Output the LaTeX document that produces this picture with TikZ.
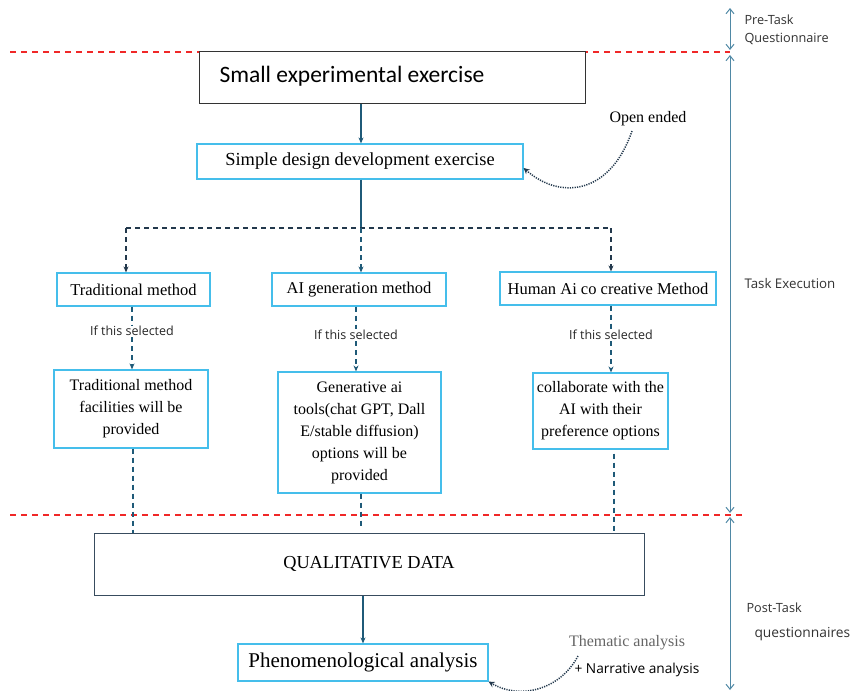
\documentclass[tikz,border=0pt]{standalone}
\usepackage{fontspec}
\setmainfont{Liberation Serif}
\newfontfamily\carl{Carlito}
\newfontfamily\opns{Open Sans}
\usetikzlibrary{arrows.meta}
\definecolor{teal1}{HTML}{1F5A78}
\definecolor{navy1}{HTML}{22384C}
\definecolor{cyanb}{HTML}{45BEEB}
\definecolor{sidec}{HTML}{4F88A5}
\definecolor{redd}{HTML}{F02828}
\begin{document}
\begin{tikzpicture}[x=1pt,y=-1pt,
  cbox/.style={draw=cyanb,line width=1.2pt,fill=white,inner sep=0pt,align=center},
  kbox/.style={draw=black!80,line width=1pt,fill=white,inner sep=0pt},
  solidarr/.style={draw=teal1,line width=1.4pt,-{Stealth[length=6pt,width=5pt]}},
  dasharr/.style={draw=teal1,line width=1.2pt,dash pattern=on 5pt off 4pt,-{Stealth[length=6pt,width=5pt]}},
  dashln/.style={draw=teal1,line width=1.2pt,dash pattern=on 5pt off 4pt},
  reddash/.style={draw=redd,line width=1.2pt,dash pattern=on 6pt off 5pt},
  sidearr/.style={draw=sidec,line width=1pt,{Straight Barb[length=5pt,width=8pt]}-{Straight Barb[length=5pt,width=8pt]}},
  dotarr/.style={draw=navy1,line width=1.5pt,dash pattern=on 1.2pt off 1.2pt,-{Stealth[length=6pt,width=6pt]}},
  sel/.style={font=\opns\fontsize{12.5}{14}\selectfont,fill=white,inner sep=1pt,text=black!85},
  side/.style={font=\opns\fontsize{12.7}{18}\selectfont,anchor=west,align=left,text=black!80},
  mth/.style={cbox,font=\fontsize{16.5}{20}\selectfont},
  low/.style={cbox,font=\fontsize{16}{22}\selectfont}
]
\useasboundingbox (0,0) rectangle (852,691);
\fill[white] (0,0) rectangle (852,691);

% red dashed phase lines
\draw[reddash] (10,52) -- (730,52);
\draw[reddash] (10,515) -- (745,515);

% side phase arrows
\coordinate (p0) at (730,8);
\coordinate (p1) at (730,50);
\coordinate (p2) at (730,55);
\coordinate (p3) at (730,513);
\coordinate (p4) at (730,517);
\coordinate (p5) at (730,690);
\draw[sidearr] (p0) -- (p1);
\draw[sidearr] (p2) -- (p3);
\draw[sidearr] (p4) -- (p5);
\node[side] (pre) at (741,30) {Pre-Task\\Questionnaire};
\node[side,font=\opns\fontsize{13.3}{16}\selectfont] (exe) at (741,284) {Task Execution};
\node[side] (post1) at (743,608) {Post-Task};
\node[side,font=\opns\fontsize{13.8}{16}\selectfont] (post2) at (751,634) {questionnaires};

% top box
\node[kbox,minimum width=386pt,minimum height=52pt] (small) at (392,77) {};
\node[anchor=west,font=\carl\fontsize{23.5}{26}\selectfont] (smalltxt) at (216,76) {Small experimental exercise};

\node[cbox,minimum width=326pt,minimum height=35pt,font=\fontsize{18.4}{22}\selectfont] (simple) at (360,161.5) {Simple design development exercise};
\coordinate (s1) at (361,0);
\draw[solidarr] (small.south -| s1) -- (simple.north -| s1);

% open ended
\node[font=\fontsize{16}{18}\selectfont] (open) at (648,119) {Open ended};
\draw[dotarr] (632,131) .. controls (610,195) and (560,200) .. (simple.east |- 0,168);

% branch
\coordinate (br) at (361,228);
\draw[draw=teal1,line width=1.4pt] (simple.south -| br) -- (br);

% method boxes
\node[mth,minimum width=153pt,minimum height=33pt] (trad) at (133.5,289.5) {Traditional method};
\node[mth,minimum width=174pt,minimum height=33pt] (aigen) at (359,289.5) {AI generation method};
\node[mth,minimum width=216pt,minimum height=33pt] (human) at (608,288.5) {Human Ai co creative Method};

\coordinate (bl) at (126,228);
\coordinate (brr) at (611,228);
\draw[dashln,draw=navy1] (bl) -- (brr);
\draw[dasharr,draw=navy1] (bl) -- (bl |- trad.north);
\draw[dasharr] (br) -- (br |- aigen.north);
\draw[dasharr,draw=navy1] (brr) -- (brr |- human.north);

% if this selected
\node[sel] (s1t) at (132,331) {If this selected};
\node[sel] (s2t) at (356,335) {If this selected};
\node[sel] (s3t) at (611,335) {If this selected};

% lower boxes
\node[low,minimum width=154pt,minimum height=78pt] (tradf) at (131,409) {Traditional method\\facilities will be\\provided};
\node[low,minimum width=163pt,minimum height=121pt] (gen) at (359.5,432.5) {Generative ai\\tools(chat GPT, Dall\\E/stable diffusion)\\options will be\\provided};
\node[low,minimum width=135pt,minimum height=76pt] (collab) at (600.5,411) {collaborate with the\\AI with their\\preference options};

\draw[dashln] (trad.south -| s1t) -- (s1t.north);
\draw[dasharr] (s1t.south) -- (s1t |- tradf.north);
\draw[dashln] (aigen.south -| s2t) -- (s2t.north);
\draw[dasharr] (s2t.south) -- (s2t |- gen.north);
\draw[dashln] (human.south -| s3t) -- (s3t.north);
\draw[dasharr] (s3t.south) -- (s3t |- collab.north);

% qualitative
\node[kbox,draw=navy1!90,minimum width=550pt,minimum height=62pt,font=\fontsize{18.3}{22}\selectfont] (qual) at (369,564) {QUALITATIVE DATA};
\coordinate (d1) at (133,0);
\coordinate (d2) at (361,0);
\coordinate (d3) at (614,0);
\draw[dashln] (tradf.south -| d1) -- (qual.north -| d1);
\draw[dashln] (gen.south -| d2) -- (d2 |- 527,527);
\draw[dashln] (collab.south -| d3) ++(0,4) -- (d3 |- qual.north);

\node[cbox,minimum width=250pt,minimum height=37pt,font=\fontsize{21}{24}\selectfont] (phen) at (363,662.5) {Phenomenological analysis};
\draw[solidarr] (qual.south -| phen.north) -- (phen.north);

\node[font=\fontsize{16}{18}\selectfont,text=black!60] (them) at (627,643) {Thematic analysis};
\node[font=\opns\fontsize{13.7}{16}\selectfont,anchor=west] (narr) at (571,670) {+ Narrative analysis};
\draw[dotarr] (578,656) .. controls (560,690) and (520,700) .. (phen.south east);
\end{tikzpicture}
\end{document}
